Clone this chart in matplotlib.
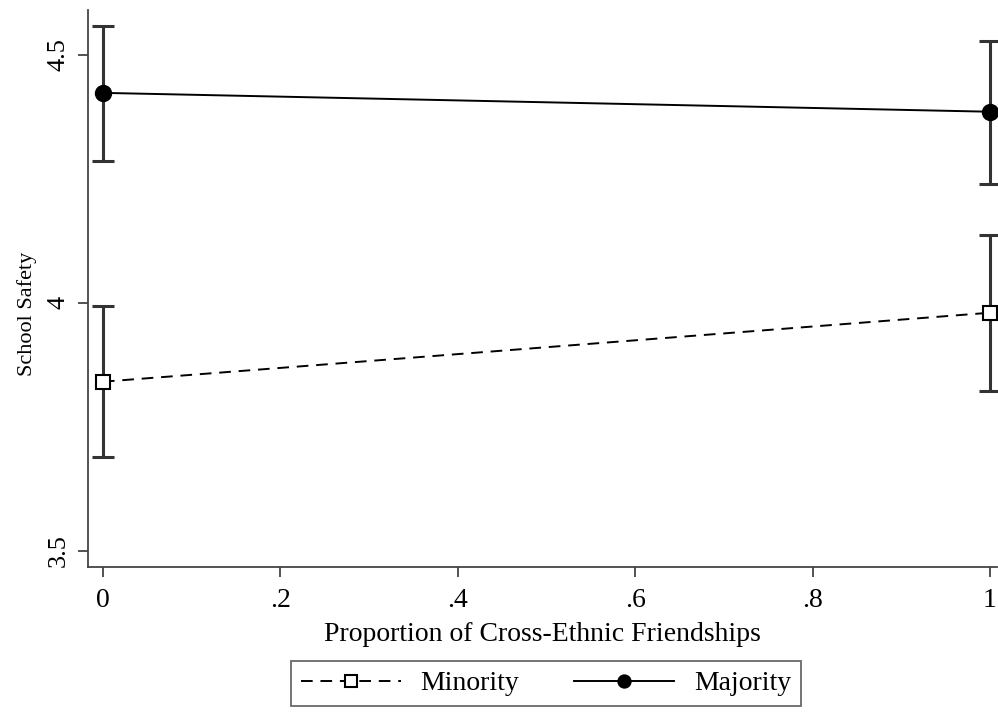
import numpy as np
import matplotlib.pyplot as plt

plt.rcParams['font.family'] = ['Liberation Serif', 'DejaVu Serif']

x = [0, 1]
minority = [3.841, 3.980]
minority_lo = [3.690, 3.822]
minority_hi = [3.994, 4.136]
majority = [4.423, 4.385]
majority_lo = [4.286, 4.240]
majority_hi = [4.557, 4.528]

xticks = [0, 0.2, 0.4, 0.6, 0.8, 1]
xlabels = ['0', '.2', '.4', '.6', '.8', '1']
yticks = [3.5, 4, 4.5]
ylabels = ['3.5', '4', '4.5']

fig = plt.figure(figsize=(9.98, 7.13), dpi=100)
ax = fig.add_axes([0.088, 0.205, 0.911, 0.781])

bar_col = '#333333'

def draw(y, lo, hi, ls, mk, mfc, label):
    y = np.array(y)
    err = [y - np.array(lo), np.array(hi) - y]
    ax.errorbar(x, y, yerr=err, fmt='none', ecolor=bar_col, elinewidth=2.2,
                capsize=8, capthick=2.2, zorder=2)
    ax.plot(x, y, ls=ls, color='black', lw=1.4, marker=mk, ms=11 if mk == 'o' else 10,
            mfc=mfc, mec='black', mew=1.5, label=label, zorder=3,
            dashes=(6, 4) if ls == '--' else (None, None))

draw(minority, minority_lo, minority_hi, '--', 's', 'white', 'Minority')
draw(majority, majority_lo, majority_hi, '-', 'o', 'black', 'Majority')

ax.set_xlim(-0.017, 1.008)
ax.set_ylim(3.468, 4.59)
ax.set_xticks(xticks)
ax.set_xticklabels(xlabels, fontsize=20)
ax.set_yticks(yticks)
ax.set_yticklabels(ylabels, fontsize=19, rotation=90, va='center')
ax.tick_params(direction='out', length=7, width=1.3, color='#444444')
ax.tick_params(axis='x', pad=8)
ax.tick_params(axis='y', pad=6)
for s in ['top', 'right']:
    ax.spines[s].set_visible(False)
for s in ['left', 'bottom']:
    ax.spines[s].set_color('#444444')
    ax.spines[s].set_linewidth(1.3)

ax.set_xlabel('Proportion of Cross-Ethnic Friendships', fontsize=20, labelpad=7)
ax.set_ylabel('School Safety', fontsize=16)
ax.yaxis.set_label_coords(-0.056, 0.455)

leg = fig.legend(loc='center', bbox_to_anchor=(0.547, 0.041), ncol=2, fontsize=20,
                 frameon=True, fancybox=False, edgecolor='#444444', markerscale=0.8,
                 handlelength=3.6, handletextpad=0.7, columnspacing=2.0,
                 borderpad=0.35)
leg.get_frame().set_linewidth(1.3)

fig.savefig('out.png', dpi=100)
